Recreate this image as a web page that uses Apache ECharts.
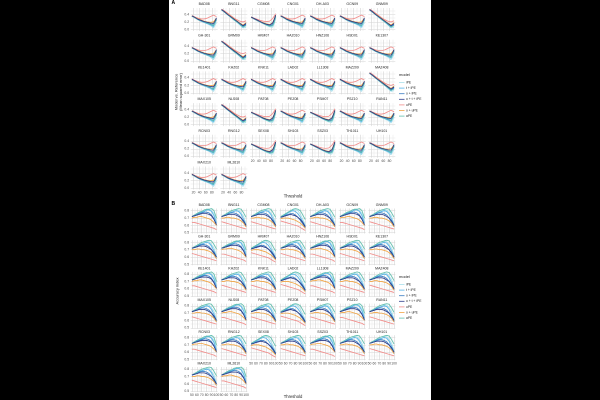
<!DOCTYPE html>
<html><head><meta charset="utf-8">
<script src="https://cdn.jsdelivr.net/npm/echarts@6/dist/echarts.min.js"></script>
<style>html,body{margin:0;padding:0;background:#000}#c{width:600px;height:400px}</style>
</head><body><div id="c"></div>
<script>
// ---------------- data ----------------
const modelNames = ['iPE', 't + iPE', 'o + iPE', 'o + t + iPE', 'uPE', 'o + uPE', 'aPE'];
const modelColors = ['#A9E0EC', '#56B4E9', '#3A7CC2', '#2D3C8A', '#F28E8C', '#F2A544', '#62C0AE'];

const facetNames = [
  'BAD08','BNG11','CGM08','CNG01','DH-A03','GCN09','GNM09',
  'GH-301','GRM09','HKM07','HAZ010','HNZ106','HSD01','KE1307',
  'KE1401','KHZ02','KNK11','LAD02','LL1308','MAZ209','MAZ408',
  'MAX105','NLS08','PAT08','PEZ08','PSM07','PSZ10','RAN11',
  'RCN03','RNG12','SEX08','SH103','SSZ03','TH1011','UH101',
  'MAX210','ML2610'
];

const thresholdsA = [15, 25, 35, 45, 55, 65, 75, 80, 85, 90, 95];
const thresholdsB = [50, 55, 60, 65, 70, 75, 80, 85, 90, 95, 100];

// Panel A (mean squared error) curve shapes, one row per model (order of modelNames)
const mseU = [
  [0.35,0.30,0.26,0.22,0.18,0.15,0.11,0.07,0.04,0.06,0.18],
  [0.35,0.31,0.26,0.22,0.19,0.16,0.13,0.10,0.08,0.12,0.25],
  [0.36,0.31,0.27,0.23,0.20,0.17,0.14,0.12,0.12,0.18,0.28],
  [0.36,0.32,0.27,0.24,0.21,0.19,0.17,0.15,0.16,0.22,0.31],
  [0.37,0.33,0.30,0.28,0.28,0.30,0.34,0.37,0.38,0.36,0.34],
  [0.36,0.32,0.28,0.25,0.22,0.20,0.19,0.18,0.20,0.24,0.30],
  [0.35,0.31,0.26,0.23,0.20,0.17,0.15,0.13,0.10,0.14,0.26]
];
const mseS = [
  [0.52,0.45,0.39,0.32,0.25,0.19,0.12,0.08,0.04,0.03,0.06],
  [0.52,0.46,0.39,0.33,0.26,0.20,0.13,0.09,0.06,0.07,0.12],
  [0.52,0.46,0.40,0.33,0.27,0.21,0.15,0.11,0.08,0.10,0.14],
  [0.53,0.47,0.40,0.34,0.28,0.22,0.16,0.13,0.10,0.12,0.16],
  [0.54,0.49,0.43,0.37,0.31,0.26,0.22,0.21,0.20,0.21,0.23],
  [0.53,0.47,0.41,0.35,0.29,0.23,0.17,0.14,0.12,0.14,0.18],
  [0.52,0.46,0.39,0.33,0.26,0.20,0.14,0.10,0.07,0.06,0.10]
];
const mseV = [
  [0.32,0.28,0.23,0.19,0.15,0.11,0.07,0.05,0.06,0.14,0.30],
  [0.32,0.28,0.24,0.20,0.16,0.12,0.09,0.08,0.10,0.18,0.33],
  [0.32,0.28,0.24,0.20,0.16,0.13,0.10,0.10,0.13,0.22,0.36],
  [0.33,0.29,0.25,0.21,0.17,0.14,0.12,0.13,0.17,0.26,0.38],
  [0.33,0.30,0.27,0.24,0.22,0.21,0.22,0.25,0.29,0.35,0.42],
  [0.33,0.29,0.25,0.21,0.18,0.15,0.13,0.14,0.18,0.27,0.38],
  [0.32,0.28,0.24,0.20,0.16,0.12,0.09,0.08,0.10,0.19,0.34]
];
const facetShapeA = [
  'U','S','V','U','U','U','S',
  'U','S','U','U','U','U','U',
  'U','U','U','U','U','U','S',
  'U','S','V','U','V','U','U',
  'U','U','V','U','V','U','U',
  'U','U'
];

// Panel B (accuracy) curve shapes
const accP = [
  [0.72,0.73,0.75,0.76,0.77,0.79,0.81,0.81,0.77,0.72,0.62],
  [0.72,0.74,0.75,0.77,0.78,0.79,0.80,0.79,0.75,0.68,0.60],
  [0.72,0.73,0.74,0.76,0.77,0.77,0.76,0.74,0.70,0.64,0.58],
  [0.72,0.73,0.74,0.75,0.75,0.75,0.74,0.72,0.70,0.66,0.60],
  [0.65,0.64,0.63,0.62,0.61,0.60,0.59,0.58,0.57,0.56,0.55],
  [0.70,0.70,0.71,0.71,0.70,0.70,0.69,0.68,0.66,0.63,0.58],
  [0.72,0.74,0.76,0.78,0.80,0.81,0.82,0.83,0.82,0.77,0.71]
];
const accQ = [
  [0.71,0.73,0.75,0.77,0.79,0.81,0.82,0.80,0.75,0.68,0.61],
  [0.72,0.73,0.75,0.77,0.79,0.80,0.79,0.76,0.71,0.65,0.59],
  [0.71,0.72,0.74,0.75,0.76,0.76,0.74,0.71,0.67,0.62,0.57],
  [0.71,0.72,0.73,0.74,0.75,0.74,0.73,0.71,0.68,0.64,0.58],
  [0.66,0.65,0.64,0.63,0.62,0.61,0.60,0.59,0.57,0.55,0.53],
  [0.69,0.70,0.70,0.70,0.69,0.68,0.67,0.65,0.63,0.60,0.56],
  [0.72,0.74,0.76,0.78,0.80,0.82,0.83,0.82,0.80,0.74,0.68]
];
const accR = [
  [0.72,0.74,0.76,0.77,0.78,0.80,0.81,0.82,0.80,0.76,0.66],
  [0.72,0.74,0.76,0.77,0.78,0.79,0.81,0.81,0.79,0.73,0.63],
  [0.72,0.73,0.75,0.76,0.77,0.78,0.78,0.77,0.74,0.69,0.60],
  [0.72,0.73,0.74,0.75,0.76,0.76,0.76,0.75,0.73,0.68,0.61],
  [0.64,0.64,0.63,0.62,0.61,0.60,0.59,0.58,0.57,0.56,0.54],
  [0.70,0.71,0.71,0.72,0.72,0.71,0.70,0.69,0.67,0.64,0.60],
  [0.72,0.74,0.76,0.78,0.79,0.81,0.82,0.82,0.83,0.80,0.70]
];
const facetShapeB = [
  'R','P','P','Q','P','R','P',
  'P','R','Q','P','R','P','P',
  'R','P','P','Q','R','P','P',
  'P','R','P','Q','P','R','P',
  'R','P','Q','P','R','P','P',
  'P','R'
];

const ticksA = [0, 0.2, 0.4];
const minorYA = [0.1, 0.3, 0.5];
const ticksB = [0.5, 0.6, 0.7, 0.8];
const minorYB = [0.55, 0.65, 0.75];
const xTicksA = [20, 40, 60, 80];
const xMinorA = [30, 50, 70, 90];
const xTicksB = [50, 60, 70, 80, 90, 100];
const xMinorB = [55, 65, 75, 85, 95];

// ---------------- build ----------------
const shapesA = {U: mseU, S: mseS, V: mseV};
const shapesB = {P: accP, Q: accQ, R: accR};
const seriesZ = [2, 2, 2, 4, 3, 3, 2];
const nCols = 7, colLeft = 190.7, colPitch = 29.6, panelW = 27, rowPitch = 31.7;
const grids = [], xAxes = [], yAxes = [], series = [], graphics = [];
const labelColor = '#4D4D4D';
const MAJ = '#D4D4D4', MIN = '#E6E6E6';

graphics.push({type: 'rect', shape: {x: 169, y: 0, width: 262, height: 400}, style: {fill: '#fff'}, z: -10});

function fmtFilter(list, digits) {
  return function (v) {
    for (const t of list) if (Math.abs(t - v) < 1e-6) return digits ? t.toFixed(digits) : String(t);
    return '';
  };
}

function addPanel(opt) {
  facetNames.forEach((name, i) => {
    const row = Math.floor(i / nCols), col = i % nCols;
    const titleY = opt.titleTop + rowPitch * row;
    const left = colLeft + colPitch * col;
    const top = titleY + opt.topOff;
    const g = grids.length;
    const showX = (i + nCols) >= facetNames.length;
    grids.push({left: left, top: top, width: panelW, height: opt.h, containLabel: false});
    xAxes.push({
      type: 'value', gridIndex: g, min: opt.xMin, max: opt.xMax,
      axisLine: {show: false}, axisTick: {show: false}, splitLine: {show: false},
      axisLabel: {show: showX, fontSize: 3.4, color: labelColor, margin: 1.6,
        hideOverlap: false, showMinLabel: true, showMaxLabel: true,
        fontFamily: 'Liberation Sans, Arial, sans-serif',
        formatter: fmtFilter(opt.xTicks, 0)}
    });
    yAxes.push({
      type: 'value', gridIndex: g, min: opt.yMin, max: opt.yMax,
      axisLine: {show: false}, axisTick: {show: false}, splitLine: {show: false},
      axisLabel: {show: col === 0, fontSize: 3.4, color: labelColor, margin: 1.6,
        hideOverlap: false, fontFamily: 'Liberation Sans, Arial, sans-serif',
        formatter: fmtFilter(opt.yTicks, 1)}
    });
    graphics.push({type: 'text', x: left + panelW / 2, y: titleY, z: 10,
      style: {text: name, fill: '#1A1A1A', font: '3.5px "Liberation Sans", Arial, sans-serif',
        align: 'center', verticalAlign: 'middle'}});
    const shape = opt.shapes[opt.assign[i]];
    const grid = [];
    opt.yTicks.forEach(v => grid.push({yAxis: v, lineStyle: {color: MAJ, width: 0.6, type: 'solid'}}));
    opt.yMinor.forEach(v => grid.push({yAxis: v, lineStyle: {color: MIN, width: 0.45, type: 'solid'}}));
    opt.xTicks.forEach(v => grid.push({xAxis: v, lineStyle: {color: MAJ, width: 0.6, type: 'solid'}}));
    opt.xMinor.forEach(v => grid.push({xAxis: v, lineStyle: {color: MIN, width: 0.45, type: 'solid'}}));
    modelNames.forEach((m, k) => {
      const s = {
        type: 'line', name: m, xAxisIndex: g, yAxisIndex: g,
        data: opt.x.map((t, j) => [t, shape[k][j]]),
        symbol: 'none', showSymbol: false, silent: true, animation: false,
        lineStyle: {width: 0.85, color: modelColors[k]}, itemStyle: {color: modelColors[k]}, z: seriesZ[k]
      };
      if (k === 0) {
        s.markLine = {silent: true, symbol: ['none', 'none'], label: {show: false}, z: 1,
          animation: false, emphasis: {disabled: true}, data: grid};
      }
      series.push(s);
    });
  });
  // legend
  const lx = 399, ly = opt.legendTop;
  graphics.push({type: 'text', x: lx, y: ly, z: 10,
    style: {text: 'model', fill: '#1A1A1A', font: '4px "Liberation Sans", Arial, sans-serif', verticalAlign: 'middle'}});
  modelNames.forEach((m, k) => {
    const yy = ly + 7.5 + k * 5.6;
    graphics.push({type: 'line', z: 10, shape: {x1: lx, y1: yy, x2: lx + 5.5, y2: yy},
      style: {stroke: modelColors[k], lineWidth: 0.8}});
    graphics.push({type: 'text', x: lx + 7, y: yy, z: 10,
      style: {text: m, fill: '#1A1A1A', font: '3.3px "Liberation Sans", Arial, sans-serif', verticalAlign: 'middle'}});
  });
  // panel letter, axis titles
  graphics.push({type: 'text', x: 171.5, y: opt.titleTop - 1.5, z: 10,
    style: {text: opt.letter, fill: '#000', font: 'bold 5px "Liberation Sans", Arial, sans-serif', verticalAlign: 'middle'}});
  graphics.push({type: 'text', x: 293, y: opt.threshY, z: 10,
    style: {text: 'Threshold', fill: '#1A1A1A', font: '4.2px "Liberation Sans", Arial, sans-serif', align: 'center', verticalAlign: 'middle'}});
  graphics.push({type: 'text', x: opt.yTitleX, y: opt.yTitleY, rotation: Math.PI / 2, z: 10,
    style: {text: opt.yTitle, fill: '#1A1A1A', font: '4px "Liberation Sans", Arial, sans-serif', align: 'center', verticalAlign: 'middle', lineHeight: 4.4}});
}

addPanel({letter: 'A', titleTop: 4, topOff: 4, h: 23, xMin: 11, xMax: 99, yMin: -0.04, yMax: 0.57,
  x: thresholdsA, shapes: shapesA, assign: facetShapeA, yTicks: ticksA, yMinor: minorYA,
  xTicks: xTicksA, xMinor: xMinorA, legendTop: 75, threshY: 196.5,
  yTitle: 'Model vs. Reference\n(Mean squared error)', yTitleX: 178.5, yTitleY: 92});
addPanel({letter: 'B', titleTop: 205, topOff: 3.5, h: 25, xMin: 47.5, xMax: 102.5, yMin: 0.489, yMax: 0.83,
  x: thresholdsB, shapes: shapesB, assign: facetShapeB, yTicks: ticksB, yMinor: minorYB,
  xTicks: xTicksB, xMinor: xMinorB, legendTop: 277, threshY: 397,
  yTitle: 'Accuracy index', yTitleX: 177.5, yTitleY: 291});

const chart = echarts.init(document.getElementById('c'), null, {renderer: 'canvas', devicePixelRatio: 2});
chart.setOption({
  backgroundColor: 'transparent',
  animation: false,
  grid: grids, xAxis: xAxes, yAxis: yAxes, series: series, graphic: graphics
});
</script>
</body></html>
